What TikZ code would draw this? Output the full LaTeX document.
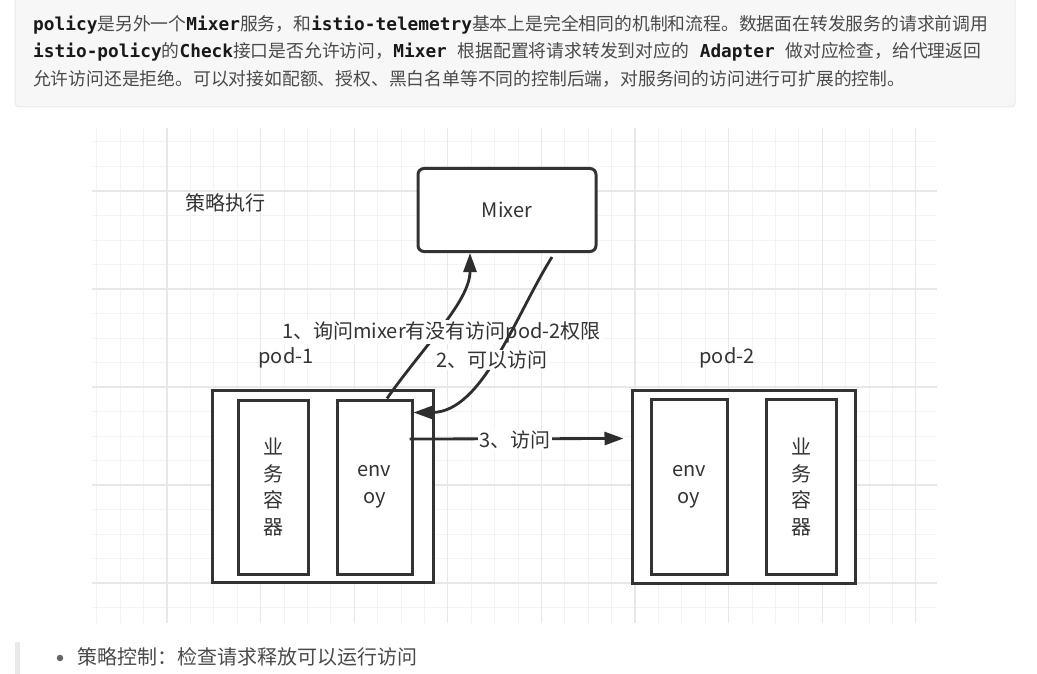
\documentclass[tikz,border=0pt]{standalone}
\usepackage{fontspec}
\setmainfont{Noto Sans CJK SC}
\newfontfamily\codefont{DejaVu Sans Mono}
\usetikzlibrary{arrows.meta}
\definecolor{ink}{HTML}{333333}
\definecolor{notegray}{HTML}{4A4A4A}
\definecolor{notebg}{HTML}{F7F7F7}
\definecolor{noteedge}{HTML}{E9E9E9}
\definecolor{gridminor}{HTML}{F3F3F3}
\definecolor{gridmajor}{HTML}{E8E8E8}
\newcommand{\codeword}[1]{{\codefont\bfseries\color{black!90}#1}}
\tikzset{
NOTE/.style={draw=noteedge,fill=notebg,rounded corners=4pt,line width=1pt},
NOTETEXT/.style={anchor=west,inner sep=0pt,text=notegray,font=\fontsize{17.8}{20}\selectfont},
GRID/.style={draw=gridminor,line width=1pt},
GRIDMAJOR/.style={draw=gridmajor,line width=1.2pt},
BOX/.style={draw=ink,line width=3pt,fill=white,inner sep=0pt,text=ink,align=center,font=\fontsize{20}{26.8}\selectfont},
TEXTLABEL/.style={inner sep=1pt,text=ink,font=\fontsize{20}{24}\selectfont},
ARC/.style={draw=ink!90!black,line width=2.8pt,-{Triangle[length=19pt,width=13pt]}},
}
\begin{document}
\begin{tikzpicture}[x=1pt,y=-1pt]
	\useasboundingbox (0,0) rectangle (1037,674);
	%Note block
	\path[NOTE] (15,-6) rectangle (1015,107);
	\node[NOTETEXT] (note1) at (33,25) {\codeword{policy}是另外一个\codeword{Mixer}服务，和\codeword{istio-telemetry}基本上是完全相同的机制和流程。数据面在转发服务的请求前调用};
	\node[NOTETEXT] (note2) at (33,52) {\codeword{istio-policy}的\codeword{Check}接口是否允许访问，\codeword{Mixer\ }根据配置将请求转发到对应的\codeword{\ Adapter\ }做对应检查，给代理返回};
	\node[NOTETEXT] (note3) at (33,79) {允许访问还是拒绝。可以对接如配额、授权、黑白名单等不同的控制后端，对服务间的访问进行可扩展的控制。};
	%Grid
	\fill[white] (92,128) rectangle (937,623);
	\foreach \k in {0,...,35} \draw[GRID] ({96.8+23.4*\k},128) -- ({96.8+23.4*\k},623);
	\foreach \k in {1,...,20} \draw[GRID] (92,{117.5+24.5*\k}) -- (937,{117.5+24.5*\k});
	\foreach \k in {3,7,...,35} \draw[GRIDMAJOR] ({96.8+23.4*\k},128) -- ({96.8+23.4*\k},623);
	\foreach \k in {3,7,...,19} \draw[GRIDMAJOR] (92,{117.5+24.5*\k}) -- (937,{117.5+24.5*\k});
	\node[TEXTLABEL] (title) at (225,203) {策略执行};
	\node[BOX,rounded corners=6pt,minimum width=178,minimum height=83] (mixer) at (507,210) {Mixer};
	%Pods
	\node[TEXTLABEL] (pod1label) at (286,358) {pod-1};
	\node[TEXTLABEL] (pod2label) at (727,358) {pod-2};
	\node[BOX,minimum width=221,minimum height=192] (pod1) at (322.5,486) {};
	\node[BOX,minimum width=70,minimum height=174] (app1) at (273,487) {业\\务\\容\\器};
	\node[BOX,minimum width=75,minimum height=174] (envoy1) at (374.5,487) {env\\oy};
	\node[BOX,minimum width=223,minimum height=193] (pod2) at (743.5,486.5) {};
	\node[BOX,minimum width=76,minimum height=175] (envoy2) at (689,487) {env\\oy};
	\node[BOX,minimum width=70,minimum height=175] (app2) at (801,487) {业\\务\\容\\器};
	%Calls
	\path[ARC] ([xshift=12.5pt]envoy1.north) .. controls +(38,-54) and +(0,48) .. ([xshift=-37pt]mixer.south);
	\node[TEXTLABEL,fill=white] (ask) at (441.5,332) {1、询问mixer有没有访问pod-2权限};
	\path[ARC] ([xshift=45pt,yshift=-4pt]mixer.south) .. controls +(-37,59) and +(69,0) .. ([yshift=-14pt]envoy1.north east);
	\node[TEXTLABEL,fill=white] (allow) at (492,360) {2、可以访问};
	\path[ARC] ([xshift=-4pt,yshift=48pt]envoy1.east) -- ([xshift=-7pt,yshift=48pt]pod2.west);
	\node[TEXTLABEL,fill=white] (visit) at (515,440) {3、访问};
	%Bullet
	\fill[noteedge] (15,642) rectangle (20,674);
	\node[circle,fill=notegray!85,inner sep=0pt,minimum size=6.5pt] (dot) at (60,658) {};
	\node[TEXTLABEL,text=notegray,anchor=west,inner sep=0pt] (policy) at (77,657) {策略控制：检查请求释放可以运行访问};
\end{tikzpicture}
\end{document}
